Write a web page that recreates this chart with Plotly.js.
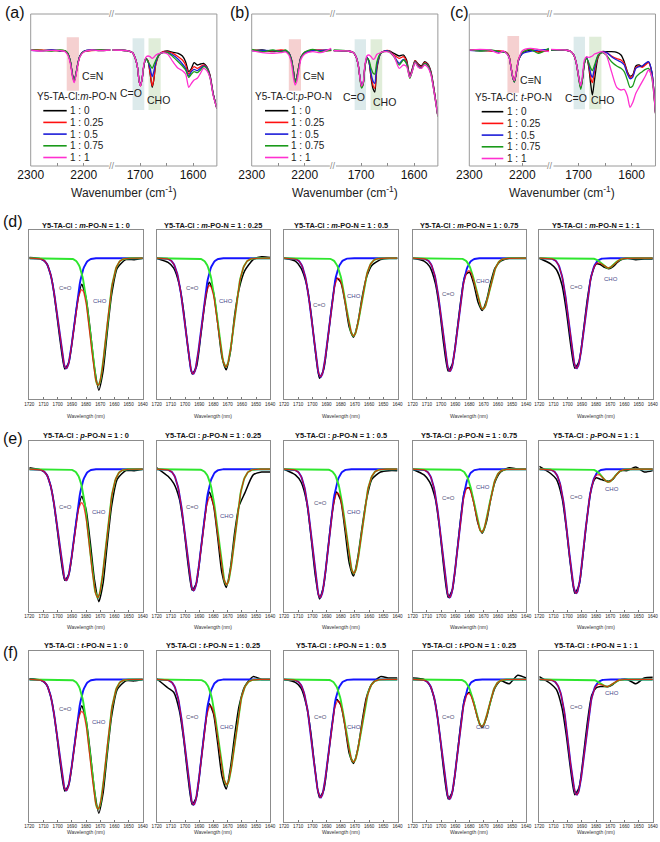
<!DOCTYPE html>
<html><head><meta charset="utf-8">
<script src="https://cdn.plot.ly/plotly-3.0.1.min.js"></script>
<style>html,body{margin:0;padding:0;background:#fff}#chart{width:660px;height:842px}</style>
</head><body><div id="chart"></div>
<script>
// ================= DATA =================
// Top panels (a)-(c): FTIR spectra, two wavenumber segments (broken axis)
const seriesLabels = ['1 : 0', '1 : 0.25', '1 : 0.5', '1 : 0.75', '1 : 1'];
const wnLeft  = [2300,2280,2260,2245,2236,2230,2225,2221,2218,2215,2211,2207,2200,2185,2170,2150];
const wnRight = [1752,1725,1714,1709,1705,1701.5,1699,1696,1693,1689,1685,1681,1677,1674,1670,1663,1656,1648,1638,1628,1620,1614,1608,1603,1598,1592,1586,1580,1574,1568,1562,1555];

// (a) Y5-TA-Cl : m-PO-N  (transmittance, a.u.)
const aLeft0 = [348,346,348,345,346,338,313,273,256,273,308,330,343,348,346,348];
const aLeft1 = [348,348,346,347,346,336,310,270,254,272,306,330,343,346,348,348];
const aLeft2 = [347,346,348,346,345,337,312,272,255,274,308,331,344,348,347,349];
const aLeft3 = [349,347,345,348,346,338,312,271,254,272,307,330,343,347,348,348];
const aLeft4 = [348,345,347,346,344,333,306,266,250,268,304,328,342,348,346,348];
const aRight0 = [348,346,340,323,298,253,241,263,298,323,316,278,236,258,308,336,343,345,341,338,330,313,283,293,310,303,306,308,298,273,218,173];
const aRight1 = [348,346,340,323,298,253,240,262,298,323,316,280,240,260,308,336,343,343,338,328,318,303,276,288,298,293,298,303,296,270,216,173];
const aRight2 = [348,346,340,323,298,253,242,262,298,323,313,293,268,283,313,336,341,341,333,320,306,293,270,283,290,286,293,300,295,268,216,173];
const aRight3 = [348,346,340,323,298,253,241,262,298,323,313,303,293,303,318,336,340,340,328,313,300,288,266,276,283,280,288,298,293,266,214,173];
const aRight4 = [348,346,340,323,298,253,240,262,303,326,330,328,323,326,333,338,340,336,313,293,286,276,236,248,258,263,278,293,286,265,212,173];

// (b) Y5-TA-Cl : p-PO-N
const bLeft0 = [346,348,343,346,345,340,320,283,253,266,298,326,340,348,346,348];
const bLeft1 = [348,346,345,348,346,338,318,280,252,264,300,326,341,347,348,346];
const bLeft2 = [346,347,346,344,346,339,319,282,253,265,299,327,340,346,347,348];
const bLeft3 = [350,343,348,342,348,338,317,281,251,263,298,325,342,350,343,348];
const bLeft4 = [346,340,338,340,342,333,308,263,243,253,288,320,336,343,340,353];
const bRight0 = [346,345,340,326,300,258,238,246,293,326,313,263,230,222,293,338,345,346,338,330,333,318,270,293,316,306,300,313,306,283,228,150];
const bRight1 = [346,345,340,326,300,258,238,246,293,326,313,270,240,233,298,338,345,346,333,323,328,313,268,290,316,303,298,311,304,280,226,150];
const bRight2 = [346,345,340,326,300,260,242,248,293,326,313,276,253,248,303,338,345,345,330,308,320,308,266,288,313,300,295,308,302,278,223,150];
const bRight3 = [348,345,340,326,300,256,234,243,290,323,318,293,278,276,313,338,343,343,328,303,318,306,263,286,312,298,293,308,300,276,220,148];
const bRight4 = [346,345,340,326,300,258,240,250,298,330,333,328,320,323,335,340,343,342,330,293,303,298,266,286,310,296,293,303,296,273,220,150];

// (c) Y5-TA-Cl : t-PO-N
const cLeft0 = [348,346,346,343,343,340,328,293,266,253,283,318,338,348,343,348];
const cLeft1 = [348,348,345,346,344,341,330,295,268,254,285,320,340,352,342,346];
const cLeft2 = [347,346,347,342,343,339,327,292,265,252,282,317,337,344,348,350];
const cLeft3 = [349,345,348,344,342,340,328,294,267,252,284,319,341,350,338,353];
const cLeft4 = [348,350,348,338,345,338,326,293,268,256,286,320,346,353,350,343];
const cRight0 = [348,348,343,333,313,283,258,236,258,308,326,298,243,213,258,328,343,343,343,341,333,313,283,270,273,300,303,298,306,312,283,163];
const cRight1 = [348,348,343,333,313,283,258,236,260,310,326,303,263,250,283,330,341,341,330,322,318,308,280,266,270,296,300,296,303,310,280,160];
const cRight2 = [348,348,343,333,313,283,258,236,260,310,326,308,276,266,293,333,341,341,328,318,312,303,276,262,266,293,298,300,308,313,283,160];
const cRight3 = [348,348,343,333,313,280,253,230,256,308,323,310,293,286,303,333,340,333,313,300,293,283,258,236,240,266,276,283,290,293,266,158];
const cRight4 = [350,348,343,333,313,283,258,240,268,318,328,326,328,330,336,340,343,333,283,236,228,230,210,176,190,218,236,253,270,288,268,158];

// Bottom panels (d)-(f): measured spectra (black) on a common wavenumber grid
const dataWn = [1720,1712,1708,1704,1701,1698,1695,1692,1689,1686,1683,1680,1677,1674,1671,1668,1665,1662,1658,1652,1646,1640];
const dData0 = [0.005,-0.005,-0.034,-0.158,-0.37,-0.605,-0.785,-0.733,-0.528,-0.306,-0.185,-0.282,-0.515,-0.781,-0.935,-0.80,-0.52,-0.26,-0.07,-0.01,-0.01,0];
const dData1 = [0,-0.03,-0.07,-0.19,-0.376,-0.636,-0.82,-0.77,-0.555,-0.317,-0.17,-0.24,-0.46,-0.70,-0.79,-0.66,-0.40,-0.22,-0.09,-0.01,0.01,0.005];
const dData2 = [0,-0.02,-0.07,-0.19,-0.385,-0.651,-0.85,-0.788,-0.564,-0.312,-0.14,-0.17,-0.31,-0.49,-0.56,-0.46,-0.28,-0.14,-0.05,-0.01,0,0];
const dData3 = [0,-0.02,-0.06,-0.18,-0.366,-0.62,-0.80,-0.75,-0.537,-0.291,-0.12,-0.10,-0.18,-0.31,-0.37,-0.30,-0.17,-0.07,-0.02,0,0,0];
const dData4 = [0,-0.04,-0.08,-0.19,-0.37,-0.605,-0.78,-0.732,-0.523,-0.281,-0.114,-0.041,-0.045,-0.065,-0.075,-0.06,-0.03,-0.01,0,-0.01,-0.005,-0.005];
const eData0 = [0.01,-0.005,-0.034,-0.158,-0.365,-0.605,-0.78,-0.733,-0.528,-0.306,-0.19,-0.282,-0.515,-0.781,-0.93,-0.80,-0.52,-0.26,-0.07,-0.01,-0.01,0];
const eData1 = [0.01,-0.05,-0.10,-0.21,-0.40,-0.659,-0.85,-0.798,-0.575,-0.329,-0.16,-0.25,-0.48,-0.73,-0.83,-0.69,-0.44,-0.26,-0.17,-0.04,-0.02,-0.02];
const eData2 = [0,-0.04,-0.09,-0.23,-0.47,-0.741,-0.91,-0.815,-0.559,-0.302,-0.16,-0.22,-0.43,-0.66,-0.75,-0.62,-0.41,-0.22,-0.07,-0.02,-0.01,-0.01];
const eData3 = [0,-0.04,-0.09,-0.21,-0.42,-0.698,-0.90,-0.844,-0.604,-0.329,-0.14,-0.13,-0.23,-0.38,-0.45,-0.37,-0.21,-0.09,-0.02,0.01,0,0];
const eData4 = [0.02,-0.03,-0.07,-0.20,-0.41,-0.674,-0.87,-0.816,-0.584,-0.313,-0.12,-0.06,-0.07,-0.08,-0.085,-0.07,-0.03,-0.01,-0.01,0.015,-0.02,-0.01];
const fData0 = [0.005,-0.005,-0.034,-0.158,-0.36,-0.605,-0.785,-0.733,-0.528,-0.306,-0.185,-0.282,-0.515,-0.785,-0.94,-0.80,-0.52,-0.26,-0.07,-0.01,-0.01,0];
const fData1 = [0.005,-0.06,-0.09,-0.22,-0.42,-0.682,-0.88,-0.826,-0.594,-0.338,-0.17,-0.24,-0.45,-0.68,-0.77,-0.62,-0.39,-0.19,-0.05,0.02,0,0];
const fData2 = [0,-0.02,-0.06,-0.19,-0.38,-0.643,-0.83,-0.779,-0.557,-0.311,-0.14,-0.18,-0.33,-0.52,-0.59,-0.49,-0.30,-0.13,-0.03,0.02,0.01,0.01];
const fData3 = [0.01,0,-0.04,-0.17,-0.385,-0.651,-0.84,-0.788,-0.564,-0.304,-0.12,-0.09,-0.16,-0.28,-0.34,-0.27,-0.15,-0.06,-0.01,-0.03,0.03,0.01];
const fData4 = [0.02,-0.03,-0.07,-0.20,-0.39,-0.628,-0.81,-0.76,-0.544,-0.292,-0.11,-0.06,-0.05,-0.05,-0.05,-0.035,-0.01,0,0,-0.03,0.01,0.015];

// Fitted Gaussian peak parameters read from the fits: position (cm-1), depth, width (sigma)
const dCOpos   = [1694.0,1694.3,1694.2,1693.8,1693.7];
const dCOdepth = [0.78,0.82,0.84,0.80,0.78];
const dCOwidth = [5.6,5.6,5.6,5.5,5.4];
const dCHOpos   = [1671.5,1671.3,1671.0,1670.5,1671.5];
const dCHOdepth = [0.90,0.77,0.55,0.36,0.07];
const dCHOwidth = [5.6,5.6,5.3,4.9,4.2];
const eCOpos   = [1694.0,1694.0,1694.5,1694.0,1694.0];
const eCOdepth = [0.78,0.85,0.90,0.90,0.87];
const eCOwidth = [5.6,5.6,5.6,5.6,5.5];
const eCHOpos   = [1671.8,1670.8,1670.8,1671.3,1671.3];
const eCHOdepth = [0.90,0.81,0.73,0.44,0.09];
const eCHOwidth = [5.6,5.6,5.5,5.0,4.2];
const fCOpos   = [1694.0,1694.0,1694.2,1694.0,1693.6];
const fCOdepth = [0.78,0.88,0.83,0.84,0.81];
const fCOwidth = [5.6,5.6,5.6,5.6,5.5];
const fCHOpos   = [1671.5,1670.7,1671.0,1671.3,1672.5];
const fCHOdepth = [0.91,0.74,0.58,0.33,0.05];
const fCHOwidth = [5.6,5.6,5.4,4.8,4.0];

const dRatios = ['1 : 0','1 : 0.25','1 : 0.5','1 : 0.75','1 : 1'];
const eRatios = ['1 : 0','1 : 0.25','1 : 0.5','1 : 0.75','1 : 1'];
const fRatios = ['1 : 0','1 : 0.25','1 : 0.5','1 : 0.25','1 : 1'];
const bottomTicks = [1720,1710,1700,1690,1680,1670,1660,1650,1640];

// ================= LAYOUT / DRAWING =================
const W = 660, H = 842;
const X = v => v / W, Y = v => 1 - v / H;
const FONT = 'Liberation Sans, Arial, Helvetica, sans-serif';
const topColors = ['#000000', '#ff1010', '#1c1cd8', '#1a9a1a', '#ff30d0'];
const traces = [];
const shapes = [];
const annotations = [];
const layout = {
  width: W, height: H, margin: {l: 0, r: 0, t: 0, b: 0},
  paper_bgcolor: '#ffffff', plot_bgcolor: 'rgba(0,0,0,0)', showlegend: false,
  font: {family: FONT, color: '#111'}, hovermode: false
};

// ---- top panels ----
const topPanels = [
  {lab: '(a)', labX: 3, x0: 30.7, left: [aLeft0,aLeft1,aLeft2,aLeft3,aLeft4], right: [aRight0,aRight1,aRight2,aRight3,aRight4],
   legTitle: 'Y5-TA-Cl:<i>m</i>-PO-N', legT: 4.3, legL0: 12.6, legL1: 36, legTx: 37, legY: 96,
   cn: [2232, 2209, 226, 386], co: [1714, 1692], cho: [1684, 1661], bandY: [168, 383],
   cnLab: [2207, 270], coLab: [1716.8, 220], choLab: [1665.3, 198]},
  {lab: '(b)', labX: 228, x0: 251.7, left: [bLeft0,bLeft1,bLeft2,bLeft3,bLeft4], right: [bRight0,bRight1,bRight2,bRight3,bRight4],
   legTitle: 'Y5-TA-Cl:<i>p</i>-PO-N', legT: 1.6, legL0: 13.3, legL1: 36.6, legTx: 37.6, legY: 96,
   cn: [2230, 2207, 226, 380], co: [1712, 1690.6], cho: [1682, 1660], bandY: [168, 380],
   cnLab: [2207, 270], coLab: [1712.6, 206], choLab: [1656, 193]},
  {lab: '(c)', labX: 448, x0: 469.3, left: [cLeft0,cLeft1,cLeft2,cLeft3,cLeft4], right: [cRight0,cRight1,cRight2,cRight3,cRight4],
   legTitle: 'Y5-TA-Cl: <i>t</i>-PO-N', legT: 4, legL0: 12.4, legL1: 34, legTx: 35.2, legY: 97,
   cn: [2228, 2206, 220, 390], co: [1709.4, 1688], cho: [1680, 1657], bandY: [170, 388],
   cnLab: [2207.5, 258], coLab: [1705, 203], choLab: [1654.7, 198]}
];
const LSPAN = (2300 - 2148) * 0.53, RSPAN = (1752 - 1555) * 0.53, GAP = 1.2;
const yT = 14, yB = 166;
const frameLine = {type: 'line', xref: 'paper', yref: 'paper', line: {color: '#9a9a9a', width: 1}, layer: 'above'};

topPanels.forEach((p, i) => {
  const xl = 2 * i + 1, xr = 2 * i + 2, yi = i + 1;
  const x0 = p.x0, xm = x0 + LSPAN, xs = xm + GAP, x1 = xs + RSPAN, xb = xm + GAP / 2;
  const axCommon = {showgrid: false, zeroline: false, showline: false, ticks: 'inside', ticklen: 3,
    tickcolor: '#8a8a8a', tickfont: {size: 12, color: '#111', family: FONT}, anchor: 'y' + yi, fixedrange: true};
  layout['xaxis' + xl] = Object.assign({}, axCommon, {domain: [X(x0), X(xm)], range: [2300, 2148],
    tickmode: 'array', tickvals: [2300, 2200],
    minor: {tickmode: 'array', tickvals: [2250], ticks: 'inside', ticklen: 3, tickcolor: '#8a8a8a', showgrid: false}});
  layout['xaxis' + xr] = Object.assign({}, axCommon, {domain: [X(xs), X(x1)], range: [1752, 1555],
    tickmode: 'array', tickvals: [1700, 1600],
    minor: {tickmode: 'array', tickvals: [1650], ticks: 'inside', ticklen: 3, tickcolor: '#8a8a8a', showgrid: false}});
  layout['yaxis' + yi] = {domain: [Y(yB), Y(yT)], range: [0, 456], anchor: 'x' + xl, visible: false, fixedrange: true};

  // shaded bands
  shapes.push({type: 'rect', xref: 'x' + xl, yref: 'y' + yi, x0: p.cn[0], x1: p.cn[1], y0: p.cn[2], y1: p.cn[3],
    fillcolor: 'rgba(236,170,170,0.55)', line: {width: 0}, layer: 'below'});
  shapes.push({type: 'rect', xref: 'x' + xr, yref: 'y' + yi, x0: p.co[0], x1: p.co[1], y0: p.bandY[0], y1: p.bandY[1],
    fillcolor: 'rgba(196,220,222,0.6)', line: {width: 0}, layer: 'below'});
  shapes.push({type: 'rect', xref: 'x' + xr, yref: 'y' + yi, x0: p.cho[0], x1: p.cho[1], y0: p.bandY[0], y1: p.bandY[1],
    fillcolor: 'rgba(208,228,196,0.65)', line: {width: 0}, layer: 'below'});

  // spectra
  for (let s = 0; s < 5; s++) {
    traces.push({type: 'scatter', mode: 'lines', x: wnLeft, y: p.left[s], xaxis: 'x' + xl, yaxis: 'y' + yi,
      name: seriesLabels[s], line: {color: topColors[s], width: 1.3, shape: 'spline', smoothing: 0.7}, hoverinfo: 'skip'});
    traces.push({type: 'scatter', mode: 'lines', x: wnRight, y: p.right[s], xaxis: 'x' + xr, yaxis: 'y' + yi,
      name: seriesLabels[s], line: {color: topColors[s], width: 1.3, shape: 'spline', smoothing: 0.7}, hoverinfo: 'skip'});
  }

  // frame with axis break
  shapes.push(Object.assign({}, frameLine, {x0: X(x0), x1: X(x0), y0: Y(yT), y1: Y(yB)}));
  shapes.push(Object.assign({}, frameLine, {x0: X(x1), x1: X(x1), y0: Y(yT), y1: Y(yB)}));
  [yT, yB].forEach(yy => {
    shapes.push(Object.assign({}, frameLine, {x0: X(x0), x1: X(xb - 3), y0: Y(yy), y1: Y(yy)}));
    shapes.push(Object.assign({}, frameLine, {x0: X(xb + 3), x1: X(x1), y0: Y(yy), y1: Y(yy)}));
    annotations.push({xref: 'paper', yref: 'paper', x: X(xb), y: Y(yy), text: '//', showarrow: false,
      font: {size: 9, color: '#888', family: FONT}, xanchor: 'center', yanchor: 'middle'});
  });

  // peak labels
  annotations.push({xref: 'x' + xl, yref: 'y' + yi, x: p.cnLab[0], y: p.cnLab[1], text: 'C≡N', showarrow: false,
    xanchor: 'left', yanchor: 'middle', font: {size: 10.5, color: '#222', family: FONT}});
  annotations.push({xref: 'x' + xr, yref: 'y' + yi, x: p.coLab[0], y: p.coLab[1], text: 'C=O', showarrow: false,
    xanchor: 'center', yanchor: 'middle', font: {size: 10.5, color: '#222', family: FONT}});
  annotations.push({xref: 'x' + xr, yref: 'y' + yi, x: p.choLab[0], y: p.choLab[1], text: 'CHO', showarrow: false,
    xanchor: 'center', yanchor: 'middle', font: {size: 10.5, color: '#222', family: FONT}});

  // legend (drawn manually)
  annotations.push({xref: 'paper', yref: 'paper', x: X(x0 + p.legT), y: Y(p.legY), text: p.legTitle, showarrow: false,
    xanchor: 'left', yanchor: 'middle', font: {size: 10, color: '#222', family: FONT}});
  for (let s = 0; s < 5; s++) {
    const ly = p.legY + 14.7 + 11.7 * s;
    shapes.push({type: 'line', xref: 'paper', yref: 'paper', x0: X(x0 + p.legL0), x1: X(x0 + p.legL1), y0: Y(ly), y1: Y(ly),
      line: {color: topColors[s], width: 1.6}});
    annotations.push({xref: 'paper', yref: 'paper', x: X(x0 + p.legTx), y: Y(ly), text: seriesLabels[s], showarrow: false,
      xanchor: 'left', yanchor: 'middle', font: {size: 10, color: '#222', family: FONT}});
  }

  // axis title and panel label
  annotations.push({xref: 'paper', yref: 'paper', x: X((x0 + x1) / 2), y: Y(192), text: 'Wavenumber (cm<sup>-1</sup>)',
    showarrow: false, xanchor: 'center', yanchor: 'middle', font: {size: 12, color: '#222', family: FONT}});
  annotations.push({xref: 'paper', yref: 'paper', x: X(p.labX), y: Y(2), text: p.lab, showarrow: false,
    xanchor: 'left', yanchor: 'top', font: {size: 16, color: '#111', family: FONT}});
});

// ---- bottom panels ----
const rows = [
  {lab: '(d)', labY: 211, top: 230, bot: 399.3, titleY: 225, xtitleY: 415.7, mol: '<i>m</i>', ratios: dRatios,
   data: [dData0,dData1,dData2,dData3,dData4], coP: dCOpos, coD: dCOdepth, coW: dCOwidth, chP: dCHOpos, chD: dCHOdepth, chW: dCHOwidth,
   coLab: [[1694.5,-0.21],[1694.7,-0.21],[1695.1,-0.334],[1694.6,-0.254],[1694.0,-0.205]],
   chLab: [[1670.5,-0.30],[1670.9,-0.30],[1670.5,-0.27],[1670.7,-0.16],[1669.3,-0.146]]},
  {lab: '(e)', labY: 428, top: 440.7, bot: 611.7, titleY: 435.5, xtitleY: 626.7, mol: '<i>p</i>', ratios: eRatios,
   data: [eData0,eData1,eData2,eData3,eData4], coP: eCOpos, coD: eCOdepth, coW: eCOwidth, chP: eCHOpos, chD: eCHOdepth, chW: eCHOwidth,
   coLab: [[1694.8,-0.263],[1694.8,-0.263],[1694.1,-0.24],[1694.8,-0.205],[1693.6,-0.198]],
   chLab: [[1670.6,-0.303],[1670.8,-0.33],[1670.7,-0.298],[1670.6,-0.123],[1668.9,-0.142]]},
  {lab: '(f)', labY: 642, top: 651, bot: 821.7, titleY: 645.5, xtitleY: 831.7, mol: '<i>t</i>', ratios: fRatios,
   data: [fData0,fData1,fData2,fData3,fData4], coP: fCOpos, coD: fCOdepth, coW: fCOwidth, chP: fCHOpos, chD: fCHOdepth, chW: fCHOwidth,
   coLab: [[1694.8,-0.21],[1694.8,-0.262],[1694.1,-0.266],[1694.8,-0.266],[1693.6,-0.196]],
   chLab: [[1670.6,-0.30],[1670.8,-0.332],[1670.7,-0.332],[1670.6,-0.332],[1668.9,-0.093]]}
];
const colLefts = [29.3, 156.7, 284, 412.7, 539.3], PW = 113.5;
const peak = (x, c, a, w) => -a * Math.exp(-((x - c) * (x - c)) / (2 * w * w));

rows.forEach((r, ri) => {
  annotations.push({xref: 'paper', yref: 'paper', x: X(1), y: Y(r.labY), text: r.lab, showarrow: false,
    xanchor: 'left', yanchor: 'top', font: {size: 16, color: '#111', family: FONT}});
  for (let k = 0; k < 5; k++) {
    const idx = ri * 5 + k;
    const xi = 7 + idx, yi = 4 + idx;
    const L = colLefts[k];
    layout['xaxis' + xi] = {domain: [X(L), X(L + PW)], range: [1720, 1640], anchor: 'y' + yi,
      tickmode: 'array', tickvals: bottomTicks, ticks: 'inside', ticklen: 2, tickcolor: '#777',
      tickfont: {size: 4.6, color: '#222', family: FONT},
      showline: true, mirror: true, linecolor: '#8c8c8c', linewidth: 1, showgrid: false, zeroline: false, fixedrange: true};
    layout['yaxis' + yi] = {domain: [Y(r.bot), Y(r.top)], range: [-1, 0.2], anchor: 'x' + xi,
      showticklabels: false, ticks: '', showline: true, mirror: true, linecolor: '#8c8c8c', linewidth: 1,
      showgrid: false, zeroline: false, fixedrange: true};

    // fit components sampled from the read peak parameters
    const fx = [], co = [], ch = [], sum = [];
    for (let x = 1720; x >= 1640; x -= 0.5) {
      const a = peak(x, r.coP[k], r.coD[k], r.coW[k]);
      const b = peak(x, r.chP[k], r.chD[k], r.chW[k]);
      fx.push(x); co.push(a); ch.push(b); sum.push(a + b);
    }
    const ax = {xaxis: 'x' + xi, yaxis: 'y' + yi, type: 'scatter', mode: 'lines', hoverinfo: 'skip'};
    traces.push(Object.assign({}, ax, {x: dataWn, y: r.data[k], name: 'measured', line: {color: '#000', width: 1.5, shape: 'spline', smoothing: 0.6}}));
    traces.push(Object.assign({}, ax, {x: fx, y: co, name: 'C=O', line: {color: '#1414ff', width: 1.9}}));
    traces.push(Object.assign({}, ax, {x: fx, y: ch, name: 'CHO', line: {color: '#2ee62e', width: 1.9}}));
    traces.push(Object.assign({}, ax, {x: fx, y: sum, name: 'fit', opacity: 0.75, line: {color: '#ff0000', width: 1.2}}));

    annotations.push({xref: 'paper', yref: 'paper', x: X(L + PW / 2), y: Y(r.titleY),
      text: '<b>Y5-TA-Cl : ' + r.mol + '-PO-N = ' + r.ratios[k] + '</b>', showarrow: false,
      xanchor: 'center', yanchor: 'middle', font: {size: 7.4, color: '#111', family: FONT}});
    annotations.push({xref: 'paper', yref: 'paper', x: X(L + PW / 2), y: Y(r.xtitleY), text: 'Wavelength (nm)',
      showarrow: false, xanchor: 'center', yanchor: 'middle', font: {size: 5, color: '#333', family: FONT}});
    annotations.push({xref: 'x' + xi, yref: 'y' + yi, x: r.coLab[k][0], y: r.coLab[k][1], text: 'C=O', showarrow: false,
      xanchor: 'center', yanchor: 'middle', font: {size: 6, color: '#55557a', family: FONT}});
    annotations.push({xref: 'x' + xi, yref: 'y' + yi, x: r.chLab[k][0], y: r.chLab[k][1], text: 'CHO', showarrow: false,
      xanchor: 'center', yanchor: 'middle', font: {size: 6, color: '#4a4a8c', family: FONT}});
  }
});

layout.shapes = shapes;
layout.annotations = annotations;
Plotly.newPlot('chart', traces, layout, {displayModeBar: false, staticPlot: true});
</script>
</body></html>
